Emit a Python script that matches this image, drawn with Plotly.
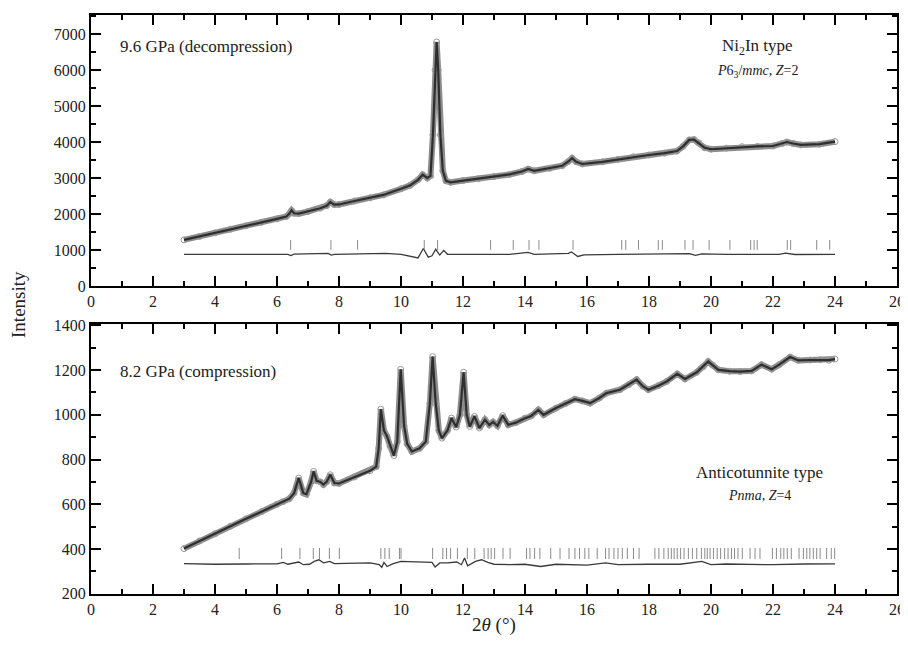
import plotly.graph_objects as go

# ---------------- data: top panel (9.6 GPa, decompression) ----------------
top_x = [3.0, 3.5, 4.0, 4.5, 5.0, 5.5, 6.0, 6.3, 6.4, 6.47, 6.55, 6.7, 7.0, 7.4, 7.6,
         7.72, 7.85, 8.0, 8.5, 9.0, 9.43, 10.0, 10.3, 10.55, 10.7, 10.85, 10.95, 11.03,
         11.1, 11.15, 11.2, 11.27, 11.35, 11.45, 11.6, 12.0, 12.5, 13.0, 13.5, 13.9,
         14.1, 14.3, 14.8, 15.2, 15.4, 15.52, 15.65, 15.85, 16.5, 17.0, 17.5, 18.0,
         18.5, 18.9, 19.1, 19.3, 19.45, 19.6, 19.8, 20.0, 20.5, 21.0, 21.5, 22.0,
         22.3, 22.45, 22.65, 22.9, 23.5, 24.0]
top_obs = [1280, 1375, 1475, 1575, 1672, 1770, 1865, 1930, 2010, 2100, 2020, 2010, 2070,
           2160, 2230, 2330, 2260, 2265, 2360, 2450, 2530, 2700, 2800, 2950, 3090, 3000,
           3060, 4200, 6000, 6780, 6000, 4200, 3200, 2920, 2880, 2930, 2980, 3040, 3100,
           3180, 3250, 3200, 3270, 3340, 3460, 3550, 3450, 3390, 3450, 3520, 3590, 3640,
           3690, 3750, 3880, 4060, 4070, 3980, 3840, 3800, 3830, 3870, 3880, 3890, 3960,
           4000, 3960, 3920, 3940, 4010]
top_diff_x = [3.0, 6.35, 6.45, 6.55, 7.65, 7.75, 7.85, 9.0, 9.5, 10.0, 10.4, 10.55, 10.72,
              10.88, 11.0, 11.12, 11.25, 11.38, 11.5, 13.5, 14.1, 14.3, 15.4, 15.5, 15.7,
              15.9, 17.0, 19.1, 19.3, 19.5, 19.7, 20.5, 22.2, 22.4, 22.7, 24.0]
top_diff = [880, 880, 845, 885, 905, 860, 880, 885, 905, 880, 820, 780, 1040, 800, 840,
            1020, 860, 990, 880, 880, 935, 880, 905, 945, 820, 865, 880, 915, 900, 850,
            890, 880, 880, 915, 875, 880]
top_bragg = [6.44, 7.74, 8.6, 10.75, 11.18, 12.89, 13.62, 14.13, 14.45, 15.55, 17.12,
             17.25, 17.66, 18.30, 18.43, 19.16, 19.42, 19.94, 20.61, 21.28, 21.39, 21.49,
             22.46, 22.57, 23.41, 23.83]

# ---------------- data: bottom panel (8.2 GPa, compression) ----------------
bot_x = [3.0, 3.5, 4.0, 4.5, 5.0, 5.5, 6.0, 6.2, 6.4, 6.55, 6.7, 6.85, 6.95, 7.1, 7.18,
         7.28, 7.4, 7.5, 7.6, 7.72, 7.85, 8.0, 8.5, 9.0, 9.2, 9.28, 9.35, 9.45, 9.55,
         9.65, 9.77, 9.88, 9.99, 10.1, 10.2, 10.35, 10.6, 10.8, 10.93, 11.02, 11.12,
         11.22, 11.32, 11.5, 11.63, 11.78, 11.9, 12.02, 12.12, 12.22, 12.37, 12.53,
         12.71, 12.85, 12.97, 13.11, 13.28, 13.46, 13.7, 14.0, 14.2, 14.43, 14.6, 15.0,
         15.3, 15.61, 15.85, 16.1, 16.4, 16.63, 17.06, 17.35, 17.6, 17.8, 17.98, 18.3,
         18.57, 18.91, 19.16, 19.54, 19.75, 19.91, 20.05, 20.24, 20.6, 20.94, 21.31,
         21.63, 21.96, 22.2, 22.55, 22.82, 23.2, 23.52, 23.8, 24.0]
bot_obs = [402, 436, 468, 502, 535, 567, 600, 612, 625, 650, 717, 650, 645, 700, 747, 705,
           700, 688, 700, 732, 695, 693, 722, 750, 768, 850, 1025, 930, 903, 860, 818,
           880, 1203, 950, 870, 836, 850, 880, 1050, 1260, 1050, 930, 896, 930, 985, 945,
           1000, 1190, 1000, 948, 993, 941, 978, 955, 968, 951, 996, 955, 965, 985, 995,
           1022, 1000, 1030, 1050, 1070, 1062, 1052, 1075, 1097, 1112, 1135, 1157, 1128,
           1112, 1130, 1149, 1183, 1160, 1190, 1215, 1238, 1222, 1201, 1195, 1193, 1196,
           1224, 1204, 1224, 1258, 1243, 1245, 1246, 1244, 1249]
bot_diff_x = [3.0, 4.0, 5.0, 6.0, 6.2, 6.35, 6.7, 6.85, 7.05, 7.2, 7.35, 7.5, 7.7, 7.85,
              9.0, 9.3, 9.38, 9.45, 9.55, 9.75, 10.0, 10.4, 11.0, 11.1, 11.25, 11.5, 11.8,
              11.95, 12.05, 12.15, 12.4, 12.6, 12.8, 13.0, 13.5, 14.0, 14.5, 15.0, 16.0,
              16.6, 17.0, 18.0, 19.0, 19.7, 20.0, 20.5, 21.0, 22.0, 23.0, 24.0]
bot_diff = [335, 332, 333, 334, 340, 332, 342, 330, 332, 345, 352, 338, 345, 335, 338,
            330, 318, 340, 322, 335, 345, 342, 340, 320, 338, 338, 342, 330, 360, 325,
            345, 352, 340, 332, 330, 332, 322, 332, 328, 338, 330, 332, 332, 345, 330,
            333, 332, 330, 333, 334]
bot_bragg = [4.78, 6.15, 6.74, 7.17, 7.37, 7.69, 8.01, 9.35, 9.48, 9.62, 9.95, 10.0, 11.02,
             11.35, 11.47, 11.6, 11.82, 12.14, 12.38, 12.68, 12.81, 12.91, 13.02, 13.29,
             13.52, 14.05, 14.16, 14.31, 14.48, 14.83, 15.13, 15.42, 15.61, 15.76, 15.93,
             16.06, 16.33, 16.60, 16.71, 16.87, 17.00, 17.14, 17.30, 17.50, 17.68, 18.19,
             18.32, 18.48, 18.62, 18.72, 18.81, 18.91, 19.02, 19.13, 19.27, 19.40, 19.54,
             19.69, 19.80, 19.88, 19.97, 20.08, 20.20, 20.31, 20.44, 20.55, 20.66, 20.76,
             20.87, 21.01, 21.26, 21.42, 21.58, 21.98, 22.11, 22.25, 22.35, 22.46, 22.59,
             22.84, 22.98, 23.09, 23.19, 23.30, 23.41, 23.52, 23.73, 23.88, 23.99]
top_bragg_level = 1140
bot_bragg_level = 380

x_ticks = list(range(0, 27, 2))
top_y_ticks = list(range(0, 7001, 1000))
bot_y_ticks = list(range(200, 1401, 200))

# ---------------- figure ----------------
SERIF = "Liberation Serif"
OBS = "#8c8c8c"
CALC = "#2e2e2e"
BRAGG = "#8a8a8a"

fig = go.Figure()

def add_panel(xa, ya, xs, obs, dx, dy, bragg, blevel, bsize):
    fig.add_trace(go.Scatter(x=xs, y=obs, mode="lines+markers", xaxis=xa, yaxis=ya,
                             line=dict(color=OBS, width=6),
                             marker=dict(symbol="circle-open", size=6, color="#9a9a9a",
                                         line=dict(width=1)),
                             showlegend=False, hoverinfo="skip"))
    fig.add_trace(go.Scatter(x=xs, y=obs, mode="lines", xaxis=xa, yaxis=ya,
                             line=dict(color=CALC, width=2.2),
                             showlegend=False, hoverinfo="skip"))
    fig.add_trace(go.Scatter(x=dx, y=dy, mode="lines", xaxis=xa, yaxis=ya,
                             line=dict(color="#3a3a3a", width=1.3),
                             showlegend=False, hoverinfo="skip"))
    fig.add_trace(go.Scatter(x=bragg, y=[blevel] * len(bragg), mode="markers",
                             xaxis=xa, yaxis=ya,
                             marker=dict(symbol="line-ns-open", size=bsize, color=BRAGG,
                                         line=dict(color=BRAGG, width=1)),
                             showlegend=False, hoverinfo="skip"))

add_panel("x", "y", top_x, top_obs, top_diff_x, top_diff, top_bragg, top_bragg_level, 7)
add_panel("x2", "y2", bot_x, bot_obs, bot_diff_x, bot_diff, bot_bragg, bot_bragg_level, 8)

axis_common = dict(showline=True, linecolor="black", linewidth=2, mirror="allticks",
                   ticks="inside", tickcolor="black", tickwidth=2, ticklen=10,
                   showgrid=False, zeroline=False, automargin=False,
                   tickfont=dict(family=SERIF, size=16, color="#222"))

top_dom = [0.532, 1.0]
bot_dom = [0.0, 0.466]

# the page body adds an 8px offset, so the figure is sized to fit inside it
fig.update_layout(
    width=900, height=629,
    margin=dict(l=83, r=11, t=7, b=43, autoexpand=False),
    font=dict(family=SERIF, color="#222"),
    paper_bgcolor="white", plot_bgcolor="white",
    xaxis=dict(domain=[0, 1], anchor="y", range=[0, 26], tickvals=x_ticks,
               minor=dict(dtick=1, ticklen=5, tickwidth=1.5, tickcolor="black",
                          ticks="inside"),
               **axis_common),
    yaxis=dict(domain=top_dom, anchor="x", range=[0, 7530], tickvals=top_y_ticks,
               minor=dict(dtick=500, ticklen=5, tickwidth=1.5, tickcolor="black",
                          ticks="inside"),
               **axis_common),
    xaxis2=dict(domain=[0, 1], anchor="y2", range=[0, 26], tickvals=x_ticks,
                minor=dict(dtick=1, ticklen=5, tickwidth=1.5, tickcolor="black",
                           ticks="inside"),
                **axis_common),
    yaxis2=dict(domain=bot_dom, anchor="x2", range=[199, 1405], tickvals=bot_y_ticks,
                minor=dict(dtick=100, ticklen=5, tickwidth=1.5, tickcolor="black",
                           ticks="inside"),
                **axis_common),
)

ann_font = dict(family=SERIF, size=17, color="#222")
small_font = dict(family=SERIF, size=14, color="#222")
annotations = [
    dict(text="9.6 GPa (decompression)", x=0.033, y=0.945, xref="paper", yref="paper",
         xanchor="left", yanchor="middle", showarrow=False, font=ann_font),
    dict(text="Ni<sub>2</sub>In type", x=0.827, y=0.945, xref="paper", yref="paper",
         xanchor="center", yanchor="middle", showarrow=False, font=ann_font),
    dict(text="<i>P</i>6<sub>3</sub>/<i>mmc</i>, <i>Z</i>=2", x=0.827, y=0.903,
         xref="paper", yref="paper", xanchor="center", yanchor="middle",
         showarrow=False, font=small_font),
    dict(text="8.2 GPa (compression)", x=0.033, y=0.385, xref="paper", yref="paper",
         xanchor="left", yanchor="middle", showarrow=False, font=ann_font),
    dict(text="Anticotunnite type", x=0.829, y=0.210, xref="paper", yref="paper",
         xanchor="center", yanchor="middle", showarrow=False, font=ann_font),
    dict(text="<i>Pnma</i>, <i>Z</i>=4", x=0.829, y=0.170, xref="paper", yref="paper",
         xanchor="center", yanchor="middle", showarrow=False, font=small_font),
    dict(text="Intensity", x=-0.09, y=0.5, xref="paper", yref="paper", textangle=-90,
         xanchor="center", yanchor="middle", showarrow=False,
         font=dict(family=SERIF, size=19, color="#222")),
    dict(text="2<i>θ</i> (°)", x=0.5, y=-0.053, xref="paper", yref="paper",
         xanchor="center", yanchor="middle", showarrow=False,
         font=dict(family=SERIF, size=19, color="#222")),
]
fig.update_layout(annotations=annotations)

fig.write_html("out.html")
